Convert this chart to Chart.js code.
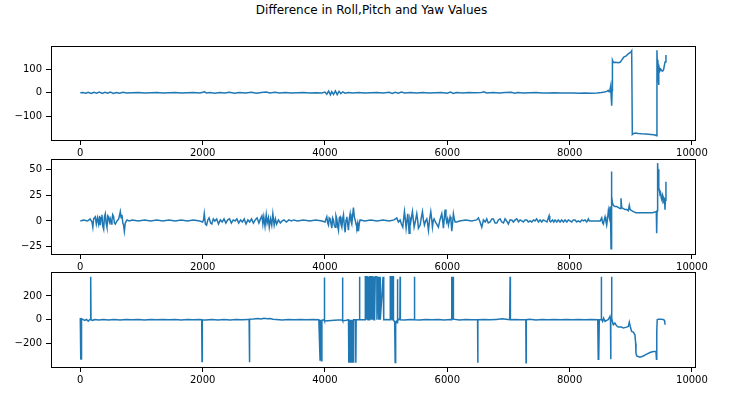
<!DOCTYPE html>
<html>
<head>
<meta charset="utf-8">
<script src="https://cdn.jsdelivr.net/npm/chart.js@4.4.1/dist/chart.umd.min.js"></script>
<style>
    body   { margin: 0; background: #fff; }
    #fig   { position: relative; width: 743px; height: 394px; overflow: hidden; background: #fff; }
    #title { position: absolute; top: 3px; left: 0; width: 743px; text-align: center;
             font: 12px "DejaVu Sans", sans-serif; color: #000; }
    canvas { position: absolute; left: 0; }
</style>
</head>
<body>
<div id="fig">
    <div id="title">Difference in Roll,Pitch and Yaw Values</div>
    <canvas id="roll"></canvas>
    <canvas id="pitch"></canvas>
    <canvas id="yaw"></canvas>
</div>
<script>
// Tick labels
const X_TICKS     = [0, 2000, 4000, 6000, 8000, 10000];
const ROLL_TICKS  = [-100, 0, 100];
const PITCH_TICKS = [-25, 0, 25, 50];
const YAW_TICKS   = [-200, 0, 200];

// [sample index, difference].
const rollValues = [
    [0,0],[40,1],[90,-2],[130,2],[180,-3],[220,2],[270,-2],[310,3],[360,-3],[400,2],[450,-2],[490,3],
    [540,-3],[590,1],[640,-2],[700,2],[760,-1],[850,0],[950,1],[1050,-1],[1150,0],[1250,1],[1350,-1],
    [1450,0],[1550,1],[1650,-1],[1750,0],[1850,1],[1950,-1],[2010,2],[2030,5],[2060,-1],[2120,1],
    [2200,-2],[2280,1],[2360,-1],[2440,2],[2520,-2],[2600,1],[2700,-1],[2800,2],[2880,-2],[2960,1],
    [3040,3],[3100,-1],[3180,2],[3260,-1],[3350,1],[3450,-1],[3550,0],[3650,1],[3750,-1],[3850,0],
    [3950,-1],[4000,3],[4030,-6],[4060,7],[4090,-9],[4110,5],[4140,-7],[4170,8],[4200,-8],[4230,6],
    [4260,-4],[4290,4],[4330,-2],[4380,1],[4450,-1],[4550,1],[4650,-1],[4750,0],[4850,1],[4950,-1],
    [5050,2],[5100,-3],[5150,2],[5200,-2],[5250,3],[5300,-1],[5400,1],[5500,-1],[5600,1],[5700,-1],
    [5800,0],[5900,1],[6000,-2],[6050,3],[6100,-3],[6150,1],[6250,-1],[6350,1],[6450,0],[6560,1],
    [6600,4],[6640,-1],[6750,1],[6850,-1],[6950,1],[7050,2],[7100,-2],[7150,1],[7250,-1],[7350,0],
    [7450,1],[7550,-1],[7650,-1],[7750,0],[7850,-1],[7950,-1],[8050,-1],[8150,-2],[8250,-1],[8350,-2],
    [8450,-1],[8520,1],[8570,3],[8610,6],[8630,10],[8645,4],[8660,14],[8672,30],[8680,-20],[8688,-55],
    [8695,10],[8700,138],[8715,128],[8750,129],[8800,127],[8830,130],[8845,136],[8870,145],[8890,152],
    [8920,155],[8960,165],[9000,172],[9015,178],[9025,-177],[9050,-172],[9080,-170],[9120,-172],
    [9180,-174],[9250,-175],[9330,-177],[9400,-179],[9420,-182],[9428,180],[9435,120],[9440,100],
    [9445,140],[9450,60],[9455,33],[9460,85],[9465,105],[9475,92],[9490,100],[9505,94],[9520,92],
    [9535,97],[9545,110],[9560,130],[9575,160]
];

const pitchValues = [
    [0,0],[55,1],[120,0],[160,2],[191,-1],[205,-6],[218,2],[245,4],[262,-3],[280,3],[300,-3],[315,5],
    [327,-4],[340,3],[354,6],[368,-5],[382,-8],[395,4],[409,7],[422,-2],[436,-6],[450,5],[463,4],
    [476,-1],[490,2],[505,-3],[518,1],[530,6],[545,4],[558,-2],[572,-3],[600,0],[627,2],[640,5],
    [654,9],[668,3],[681,6],[695,-2],[708,-4],[720,-10],[735,-2],[763,1],[800,0],[850,1],[950,0],
    [1050,1],[1150,0],[1250,1],[1350,0],[1450,1],[1550,0],[1650,1],[1750,0],[1850,1],[1950,0],
    [2000,-1],[2015,1],[2027,7],[2045,-3],[2065,-4],[2085,1],[2105,3],[2130,-2],[2150,-3],[2175,2],
    [2200,0],[2230,2],[2260,-3],[2290,1],[2320,-1],[2350,2],[2380,-2],[2410,1],[2440,2],[2470,-2],
    [2500,1],[2530,0],[2560,2],[2590,-2],[2620,1],[2650,-1],[2680,2],[2710,-3],[2740,1],[2770,-1],
    [2800,2],[2830,-2],[2860,1],[2890,3],[2920,-2],[2945,2],[2970,5],[2985,-3],[3000,4],[3020,-5],
    [3040,6],[3055,-2],[3075,3],[3090,-6],[3110,2],[3130,-4],[3148,7],[3170,-4],[3190,2],[3210,-3],
    [3240,1],[3270,-2],[3300,0],[3330,1],[3370,-1],[3410,1],[3450,0],[3490,1],[3550,0],[3650,1],
    [3750,0],[3850,1],[3950,0],[4000,-1],[4030,4],[4045,-2],[4058,-4],[4070,3],[4085,2],[4100,-3],
    [4112,-7],[4125,3],[4139,1],[4152,-4],[4167,-6],[4180,5],[4194,2],[4208,-5],[4221,-9],[4235,3],
    [4248,4],[4262,-3],[4276,-6],[4290,2],[4303,6],[4316,-4],[4330,-11],[4345,1],[4357,4],[4370,-2],
    [4384,-9],[4398,2],[4412,7],[4425,0],[4439,-3],[4452,5],[4466,13],[4480,4],[4493,1],[4508,-3],
    [4521,-6],[4535,-2],[4548,-10],[4562,-2],[4575,1],[4650,0],[4750,1],[4850,0],[4950,1],[5050,0],
    [5130,1],[5174,3],[5201,-1],[5229,1],[5250,-3],[5272,-6],[5300,9],[5315,1],[5327,-7],[5354,7],
    [5365,-2],[5376,-12],[5390,2],[5403,-1],[5430,9],[5445,1],[5458,-6],[5480,0],[5501,7],[5515,1],
    [5528,-7],[5556,-4],[5575,3],[5594,9],[5610,1],[5626,-4],[5645,0],[5665,2],[5680,-3],[5692,-9],
    [5710,1],[5730,9],[5745,2],[5757,-6],[5770,0],[5784,2],[5805,-1],[5828,-3],[5855,-6],[5880,1],
    [5910,7],[5925,0],[5937,-7],[5950,2],[5964,11],[5978,3],[5991,-1],[6005,2],[6019,-4],[6033,0],
    [6046,4],[6060,1],[6073,-10],[6087,-2],[6100,7],[6115,2],[6128,-1],[6155,-1],[6200,0],[6300,1],
    [6400,0],[6480,1],[6509,3],[6536,-1],[6564,-6],[6591,1],[6620,-1],[6645,2],[6670,-2],[6700,-1],
    [6727,2],[6754,2],[6782,-2],[6809,-2],[6836,1],[6863,2],[6890,-1],[6918,-2],[6945,2],[6970,0],
    [6999,-3],[7025,1],[7054,1],[7080,-1],[7110,1],[7136,2],[7165,-1],[7190,1],[7217,0],[7245,-1],
    [7270,1],[7299,1],[7325,-1],[7355,0],[7381,-1],[7410,1],[7435,0],[7462,2],[7490,-1],[7517,1],
    [7545,-1],[7570,1],[7599,0],[7630,-1],[7664,5],[7675,0],[7691,-1],[7720,1],[7740,-1],[7762,1],
    [7790,-1],[7815,1],[7844,-1],[7870,1],[7900,-1],[7925,1],[7955,-1],[7980,1],[8007,0],[8035,-1],
    [8060,1],[8089,1],[8115,-1],[8140,0],[8171,-1],[8200,1],[8225,0],[8252,1],[8280,-1],[8307,2],
    [8323,0],[8400,0],[8500,0],[8525,3],[8540,-2],[8552,-3],[8565,1],[8579,4],[8592,0],[8606,-4],
    [8620,2],[8634,10],[8650,4],[8661,14],[8670,6],[8677,-27],[8683,48],[8690,24],[8699,18],
    [8715,15],[8740,14],[8770,14],[8800,13],[8824,12],[8840,22],[8851,13],[8880,12],[8906,11],
    [8935,11],[8960,10],[8976,15],[8990,11],[9015,10],[9041,9],[9085,8],[9150,8],[9250,8],
    [9350,8],[9418,9],[9423,-12],[9430,10],[9439,56],[9447,40],[9455,50],[9461,32],[9466,30],
    [9477,26],[9488,27],[9499,22],[9510,20],[9520,25],[9532,23],[9543,17],[9552,22],[9559,11],
    [9566,20],[9575,38]
];

const yawValues = [
    [0,15],[5,-335],[10,5],[15,-330],[20,8],[40,3],[70,-5],[100,2],[130,-12],[150,0],[165,4],
    [170,361],[175,0],[200,-5],[240,2],[300,-3],[380,2],[460,-2],[550,1],[650,-2],[750,2],
    [850,-1],[950,1],[1050,-2],[1150,2],[1250,-1],[1350,2],[1450,-1],[1550,1],[1650,-2],[1750,2],
    [1850,-1],[1950,1],[1985,0],[1990,-352],[1995,0],[2050,-3],[2150,2],[2250,-2],[2350,1],
    [2450,-2],[2550,2],[2650,-1],[2740,2],[2760,2],[2765,-358],[2770,5],[2830,6],[2900,10],
    [2960,6],[3000,12],[3060,8],[3100,11],[3150,4],[3200,2],[3300,-2],[3400,1],[3500,-1],[3600,2],
    [3700,-1],[3800,1],[3900,0],[3920,-340],[3925,0],[3945,-345],[3950,-5],[3985,0],[3990,355],
    [3995,-10],[4050,-8],[4150,-5],[4280,0],[4287,355],[4292,-10],[4350,-5],[4385,0],[4390,-362],
    [4400,0],[4405,-362],[4415,0],[4420,-362],[4430,0],[4435,-362],[4445,0],[4450,-362],[4460,0],
    [4466,-362],[4472,0],[4500,0],[4505,-362],[4510,0],[4560,0],[4565,362],[4570,0],[4655,0],
    [4660,362],[4675,362],[4677,0],[4680,362],[4690,362],[4692,0],[4697,362],[4705,0],[4710,362],
    [4720,362],[4722,0],[4728,362],[4738,362],[4740,0],[4745,362],[4760,362],[4762,0],[4768,362],
    [4780,362],[4783,0],[4790,362],[4800,362],[4802,0],[4808,362],[4815,0],[4822,362],[4848,362],
    [4850,0],[4875,362],[4880,0],[4900,362],[4905,0],[4950,362],[4960,362],[4962,0],[5000,2],
    [5066,0],[5068,362],[5080,362],[5082,0],[5090,362],[5100,0],[5105,362],[5118,362],[5120,0],
    [5140,-20],[5148,-360],[5152,-10],[5160,-30],[5170,-15],[5180,-25],[5185,340],[5190,-10],
    [5205,5],[5225,0],[5229,362],[5233,0],[5300,-3],[5400,2],[5460,0],[5463,362],[5467,0],
    [5550,-2],[5650,2],[5750,-1],[5850,2],[5950,-2],[6050,1],[6070,0],[6073,362],[6080,0],
    [6095,362],[6100,5],[6200,-2],[6300,1],[6400,-1],[6495,0],[6498,-362],[6502,0],[6600,2],
    [6700,-1],[6800,3],[6900,8],[6960,4],[7020,0],[7027,362],[7032,0],[7100,2],[7200,-1],[7284,0],
    [7288,-362],[7292,0],[7350,5],[7450,-2],[7550,3],[7650,-1],[7750,2],[7850,-1],[7950,1],
    [8050,-1],[8150,1],[8250,-1],[8350,1],[8460,0],[8468,-333],[8472,0],[8480,-333],[8485,0],
    [8515,0],[8518,361],[8522,5],[8540,-14],[8555,14],[8580,-14],[8605,-5],[8630,0],[8660,28],
    [8668,0],[8671,-333],[8676,10],[8684,20],[8687,361],[8690,10],[8700,-14],[8715,-42],
    [8740,-28],[8768,-51],[8795,-62],[8850,-62],[8877,-70],[8932,-62],[8960,-56],[8976,-20],
    [8998,-70],[9014,-99],[9041,-104],[9068,-127],[9080,-200],[9085,-282],[9096,-305],[9150,-316],
    [9205,-305],[9260,-290],[9314,-276],[9369,-268],[9412,-268],[9420,-333],[9425,-100],[9432,0],
    [9450,5],[9500,5],[9540,0],[9555,-10],[9560,-42]
];

const LINE_COLOR = '#1f77b4';

// Draws the four spines around the plot area, like matplotlib does.
const framePlugin = {
    id: 'frame',
    afterDraw(chart) {
        const { ctx, chartArea: a } = chart;
        ctx.save();
        ctx.strokeStyle = '#000';
        ctx.lineWidth = 1;
        ctx.strokeRect(Math.round(a.left) + 0.5, Math.round(a.top) + 0.5,
                       Math.round(a.right - a.left), Math.round(a.bottom - a.top));
        ctx.restore();
    }
};

const tickFont = { family: '"DejaVu Sans", sans-serif', size: 10 };

// Plain numbers, no thousands separator and a real minus sign.
const plainLabel = v => (v < 0 ? '\u2212' + Math.abs(v) : String(v));

const makePanel = (id, values, yTicks, yMin, yMax, top, axesHeight) => {
    const PAD_TOP = 10, X_AXIS_H = 20;
    const canvas = document.getElementById(id);
    canvas.width = 743;
    canvas.height = PAD_TOP + axesHeight + X_AXIS_H;
    canvas.style.top = (top - PAD_TOP) + 'px';

    return new Chart(canvas, {
        type: 'line',
        data: {
            datasets: [{
                data: values.map(([x, y]) => ({ x, y })),
                borderColor: LINE_COLOR,
                borderWidth: 1.5,
                pointRadius: 0,
                tension: 0,
                fill: false
            }]
        },
        options: {
            responsive: false,
            animation: false,
            devicePixelRatio: 1,
            layout: { padding: { top: PAD_TOP, right: 48, bottom: 0, left: 0 } },
            plugins: { legend: { display: false }, tooltip: { enabled: false } },
            scales: {
                x: {
                    type: 'linear',
                    min: -479, max: 10050,
                    afterBuildTicks: s => { s.ticks = X_TICKS.map(value => ({ value })); },
                    afterFit: s => { s.height = X_AXIS_H; },
                    grid: { drawOnChartArea: false, tickLength: 5, color: '#000' },
                    border: { display: false },
                    ticks: { font: tickFont, color: '#000', padding: 2, maxRotation: 0,
                             autoSkip: false, callback: plainLabel }
                },
                y: {
                    type: 'linear',
                    min: yMin, max: yMax,
                    afterBuildTicks: s => { s.ticks = yTicks.map(value => ({ value })); },
                    afterFit: s => { s.width = 51; },
                    grid: { drawOnChartArea: false, tickLength: 5, color: '#000' },
                    border: { display: false },
                    ticks: { font: tickFont, color: '#000', padding: 4, autoSkip: false,
                             callback: plainLabel }
                }
            }
        },
        plugins: [framePlugin]
    });
};

makePanel('roll',  rollValues,  ROLL_TICKS,  -200, 198, 46, 94);
makePanel('pitch', pitchValues, PITCH_TICKS, -32,  60,  159, 95);
makePanel('yaw',   yawValues,   YAW_TICKS,   -398, 402, 272, 95);
</script>
</body>
</html>
